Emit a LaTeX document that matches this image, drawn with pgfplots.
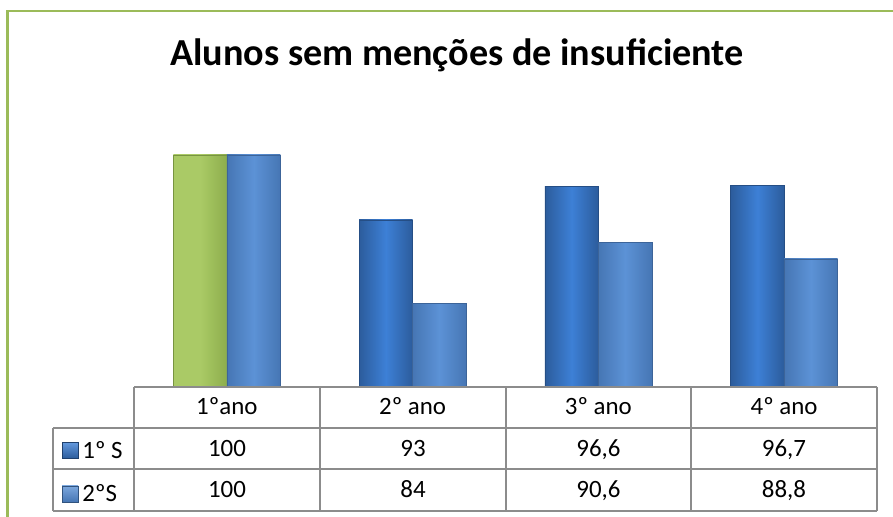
\documentclass[border=0pt]{standalone}
\usepackage{pgfplots}
\usepackage{pgfplotstable}
\pgfplotsset{compat=1.18}
\usepackage{fontspec}
\setmainfont{Carlito}
\definecolor{frame}{HTML}{9BBB59}
\definecolor{gridc}{HTML}{8C8C8C}
\definecolor{sAdark}{HTML}{2C5C9C}
\definecolor{sAlight}{HTML}{3D80D6}
\definecolor{sBdark}{HTML}{4676B4}
\definecolor{sBlight}{HTML}{5C92D6}
\definecolor{gdark}{HTML}{8DAE4C}
\definecolor{glight}{HTML}{AACA66}
\pgfplotstableread{
x y
0 100
1 93
2 96.6
3 96.7
}\semA
\pgfplotstableread{
x y
0 100
1 84
2 90.6
3 88.8
}\semB
\pgfplotsset{
 sA/.style={bar shift=-26.75bp, draw=sAdark!85!black, left color=sAdark, right color=sAdark, middle color=sAlight},
 sB/.style={bar shift=26.75bp, draw=sBdark!85!black, left color=sBdark, right color=sBdark, middle color=sBlight},
 sG/.style={bar shift=-26.75bp, draw=gdark!85!black, left color=glight, right color=gdark, middle color=glight},
 only/.style={restrict expr to domain={\coordindex}{#1:#1}},
}
\begin{document}
\begin{tikzpicture}
\begin{scope}[x=1bp,y=1bp]
\useasboundingbox (0,0) rectangle (893,517);
\fill[white] (0,0) rectangle (893,517);
\draw[frame, line width=2.5bp] (7.5,0) -- (7.5,506) -- (893,506);
\node[font=\bfseries\fontsize{38.3}{44}\selectfont, anchor=base, inner sep=0pt] at (457,451) {Alunos sem menções de insuficiente};
\end{scope}
\begin{axis}[
 at={(134bp,130bp)}, anchor=south west,
 scale only axis, width=743bp, height=232bp,
 xmin=-0.5, xmax=3.5, ymin=75, ymax=100,
 axis line style={draw=none}, major tick length=0pt,
 xtick style={draw=none},
 ytick=\empty, xtick={0,1,2,3}, xticklabels={1ºano, 2º ano, 3º ano, 4º ano},
 xticklabel style={anchor=base, yshift=-28bp, inner sep=0pt, font=\fontsize{25}{30}\selectfont},
 ybar, bar width=53.5bp,
 legend image code/.code={\draw[#1] (0bp,-8bp) rectangle (16bp,8bp);},
 legend style={draw=none, fill=none, inner sep=0pt, outer sep=0pt,
   at={(axis description cs:-0.0969,-0.2328)}, anchor=north west,
   row sep=25bp, column sep=4bp,
   nodes={inner sep=0pt, outer sep=0pt},
   font=\fontsize{25}{30}\selectfont},
 legend cell align=left,
]
\addlegendimage{draw=sAdark!70!black, top color=sAlight!80!white, bottom color=sAdark}
\addlegendentry{1º S}
\addlegendimage{draw=sBdark!70!black, top color=sBlight!80!white, bottom color=sBdark}
\addlegendentry{2ºS}
% series 1 (first bar drawn green as in the reference)
\addplot[sG, forget plot] table[x=x,y=y, only=0] {\semA};
\addplot[sA, forget plot] table[x=x,y=y, only=1] {\semA};
\addplot[sA, forget plot] table[x=x,y=y, only=2] {\semA};
\addplot[sA, forget plot] table[x=x,y=y, only=3] {\semA};
% series 2
\addplot[sB, forget plot] table[x=x,y=y, only=0] {\semB};
\addplot[sB, forget plot] table[x=x,y=y, only=1] {\semB};
\addplot[sB, forget plot] table[x=x,y=y, only=2] {\semB};
\addplot[sB, forget plot] table[x=x,y=y, only=3] {\semB};
\end{axis}
\begin{scope}[x=1bp,y=1bp]
\draw[gridc, line width=1.5bp] (134,130) -- (877,130);
\foreach \yy in {89,48,6} {\draw[gridc, line width=1.5bp] (53,\yy) -- (877,\yy);}
\foreach \xx in {134,320,506,691,877} {\draw[gridc, line width=1.5bp] (\xx,130) -- (\xx,6);}
\draw[gridc, line width=1.5bp] (53,89) -- (53,6);
\begin{scope}[every node/.style={font=\fontsize{25}{30}\selectfont, anchor=base, inner sep=0pt}]
\node at (227,60) {100};
\node at (413,60) {93};
\node at (598.5,60) {96,6};
\node at (784,60) {96,7};
\node at (227,19) {100};
\node at (413,19) {84};
\node at (598.5,19) {90,6};
\node at (784,19) {88,8};
\end{scope}
\end{scope}
\end{tikzpicture}
\end{document}
